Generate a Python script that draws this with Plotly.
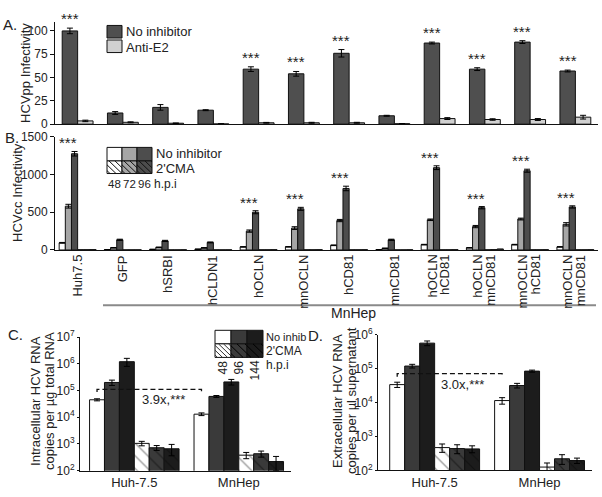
import math
import plotly.graph_objects as go

# ---------------- data ----------------
categories = ["Huh7.5", "GFP", "hSRBI", "hCLDN1", "hOCLN", "mnOCLN", "hCD81", "mnCD81",
              "hOCLN<br>hCD81", "hOCLN<br>mnCD81", "mnOCLN<br>hCD81", "mnOCLN<br>mnCD81"]

# Panel A: HCVpp infectivity
A_no_inhibitor = [100, 12, 18, 15, 59, 54, 76, 9, 87, 59, 88, 57]
A_no_inhibitor_err = [3, 1.5, 3, 0.5, 2.5, 2.5, 4, 0.5, 1, 1.5, 1.5, 1]
A_anti_e2 = [3.5, 2, 1, 0.3, 1.5, 1.5, 1.5, 0.5, 6, 5, 5, 7.5]
A_anti_e2_err = [0.8, 0.5, 0.3, 0.2, 0.4, 0.5, 0.5, 0.2, 1, 0.8, 1, 2]
A_significant = [1, 0, 0, 0, 1, 1, 1, 0, 1, 1, 1, 1]

# Panel B: HCVcc infectivity (48, 72, 96 h.p.i)
B_no_inh_48 = [95, 5, 8, 10, 41, 42, 62, 5, 71, 29, 71, 41]
B_no_inh_72 = [580, 30, 35, 28, 250, 290, 390, 22, 400, 310, 410, 340]
B_no_inh_96 = [1275, 135, 120, 100, 500, 545, 815, 135, 1090, 560, 1050, 570]
B_no_inh_48_err = [5, 1, 1, 1, 3, 3, 4, 1, 4, 3, 4, 3]
B_no_inh_72_err = [25, 3, 3, 3, 15, 18, 15, 3, 10, 15, 12, 22]
B_no_inh_96_err = [30, 8, 8, 6, 20, 20, 30, 8, 25, 15, 20, 15]
B_cma_48 = [4, 2, 2, 2, 3, 3, 3, 2, 3, 3, 3, 3]
B_cma_72 = [4, 2, 2, 2, 3, 3, 3, 2, 3, 5, 3, 3]
B_cma_96 = [5, 2, 3, 2, 4, 4, 4, 3, 4, 14, 4, 4]
B_significant = [1, 0, 0, 0, 1, 1, 1, 0, 1, 1, 1, 1]

cells = ["Huh-7.5", "MnHep"]
# Panel C: intracellular HCV RNA (48, 96, 144 h.p.i)
C_no_inh = [[4.5e4, 1.3e4], [2.0e5, 6.0e4], [1.2e6, 2.1e5]]
C_no_inh_err = [[4e3, 1.5e3], [4.5e4, 5e3], [4e5, 5e4]]
C_cma = [[1.05e3, 3.8e2], [7.2e2, 4.3e2], [6.6e2, 2.2e2]]
C_cma_err = [[2e2, 1e2], [1.5e2, 1.1e2], [3e2, 1.2e2]]
C_bracket = 1.1e5
# Panel D: extracellular HCV RNA
D_no_inh = [[3.4e4, 1.15e4], [1.2e5, 3.2e4], [5.7e5, 8.5e4]]
D_no_inh_err = [[6e3, 2.5e3], [1.5e4, 5e3], [9e4, 6e3]]
D_cma = [[4.7e2, 1.25e2], [4.4e2, 2.2e2], [4.3e2, 1.95e2]]
D_cma_err = [[1.3e2, 40], [1.3e2, 70], [1e2, 35]]
D_bracket = 7.2e4

# ---------------- helpers ----------------
W, H = 602, 497
FONT = "Liberation Sans, Arial, sans-serif"
TXT = "#222"


def px(x):
    return x / W


def py(y):
    return 1 - y / H


fig = go.Figure()
ERR = dict(type="data", color="black", thickness=1, width=3)

# ---------------- Panel A ----------------
idx = list(range(len(categories)))
wA = 0.341
fig.add_trace(go.Bar(x=idx, y=A_no_inhibitor, width=wA, offset=-wA, xaxis="x", yaxis="y",
                     marker=dict(color="#4f4f4f", line=dict(color="#111", width=1)),
                     error_y=dict(array=A_no_inhibitor_err, **ERR)))
fig.add_trace(go.Bar(x=idx, y=A_anti_e2, width=wA, offset=0, xaxis="x", yaxis="y",
                     marker=dict(color="#d0d0d0", line=dict(color="#111", width=1)),
                     error_y=dict(array=A_anti_e2_err, **ERR)))

# ---------------- Panel B ----------------
wB = 0.136
B_series = [
    (B_no_inh_48, B_no_inh_48_err, "white", None),
    (B_no_inh_72, B_no_inh_72_err, "#a6a6a6", None),
    (B_no_inh_96, B_no_inh_96_err, "#4d4d4d", None),
    (B_cma_48, None, "white", "\\"),
    (B_cma_72, None, "#a6a6a6", "\\"),
    (B_cma_96, None, "#4d4d4d", "\\"),
]
for k, (vals, errs, col, pat) in enumerate(B_series):
    mk = dict(color=col, line=dict(color="#111", width=1))
    if pat:
        mk["pattern"] = dict(shape=pat, fgcolor="#111", bgcolor=col, size=4, solidity=0.3)
    fig.add_trace(go.Bar(x=idx, y=vals, width=wB, offset=(k - 3) * wB, xaxis="x2", yaxis="y2",
                         marker=mk,
                         error_y=dict(array=errs, **ERR) if errs else None))

# ---------------- Panels C & D ----------------
wC = 0.1428
cidx = list(range(len(cells)))
no_cols = ["white", "#3a3a3a", "#1c1c1c"]


def add_log_panel(no_inh, no_err, cma, cma_err, xa, ya):
    for k in range(3):
        fig.add_trace(go.Bar(x=cidx, y=no_inh[k], width=wC, offset=(k - 3) * wC, xaxis=xa, yaxis=ya,
                             marker=dict(color=no_cols[k], line=dict(color="#111", width=1)),
                             error_y=dict(array=no_err[k], **ERR)))
    for k in range(3):
        fig.add_trace(go.Bar(x=cidx, y=cma[k], width=wC, offset=k * wC, xaxis=xa, yaxis=ya,
                             marker=dict(color=no_cols[k], line=dict(color="#111", width=1),
                                         pattern=dict(shape="\\", fgcolor="#333" if k == 0 else "#0a0a0a",
                                                      bgcolor=no_cols[k], size=9, solidity=0.15)),
                             error_y=dict(array=cma_err[k], **ERR)))


add_log_panel(C_no_inh, C_no_inh_err, C_cma, C_cma_err, "x3", "y3")
add_log_panel(D_no_inh, D_no_inh_err, D_cma, D_cma_err, "x4", "y4")

# dashed brackets (white 48h bar of Huh-7.5 to white 48h bar of MnHep)
bx0 = cidx[0] - 2.5 * wC
bx1 = cidx[1] - 2.5 * wC
for val, xa, ya in [(C_bracket, "x3", "y3"), (D_bracket, "x4", "y4")]:
    fig.add_trace(go.Scatter(x=[bx0, bx0, bx1, bx1], y=[val * 0.8, val, val, val * 0.82],
                             mode="lines", xaxis=xa, yaxis=ya,
                             line=dict(color="#111", width=1.3, dash="5px,3px")))

# ---------------- annotations ----------------
ann = []


def text(x, y, s, size=13, xanchor="center", yanchor="middle", angle=0, **kw):
    ann.append(dict(x=px(x), y=py(y), xref="paper", yref="paper", text=s, showarrow=False,
                    xanchor=xanchor, yanchor=yanchor, textangle=angle,
                    font=dict(family=FONT, size=size, color=TXT), **kw))


# stars A
for i, s in enumerate(A_significant):
    if s:
        ann.append(dict(x=i - wA / 2, y=A_no_inhibitor[i] + A_no_inhibitor_err[i], xref="x", yref="y",
                        text="***", showarrow=False, yanchor="bottom", yshift=-1,
                        font=dict(family=FONT, size=15, color=TXT)))
# stars B
for i, s in enumerate(B_significant):
    if s:
        ann.append(dict(x=i - 1.5 * wB, y=B_no_inh_96[i] + B_no_inh_96_err[i], xref="x2", yref="y2",
                        text="***", showarrow=False, yanchor="bottom", yshift=-2,
                        font=dict(family=FONT, size=15, color=TXT)))

# B category labels (rotated, top aligned under the axis, one annotation per line)
for i, lab in enumerate(categories):
    lines = lab.split("<br>")
    n = len(lines)
    for j, line in enumerate(lines):
        ann.append(dict(x=i, y=py(252), xref="x2", yref="paper", text=line, showarrow=False,
                        textangle=-90, xanchor="center", yanchor="top",
                        xshift=(j - (n - 1) / 2) * 13 - (1 if n > 1 else 0),
                        font=dict(family=FONT, size=13, color=TXT)))

# fold-change labels
ann.append(dict(x=0.28, y=math.log10(C_bracket), xref="x3", yref="y3", text="3.9x,***",
                showarrow=False, yanchor="top", xanchor="center", yshift=-1,
                font=dict(family=FONT, size=13, color=TXT)))
ann.append(dict(x=0.27, y=math.log10(D_bracket), xref="x4", yref="y4", text="3.0x,***",
                showarrow=False, yanchor="top", xanchor="center", yshift=-1,
                font=dict(family=FONT, size=13, color=TXT)))

# panel letters
text(1, 16, "A.", 15, xanchor="left")
text(3, 133, "B.", 15, xanchor="left")
text(6, 336, "C.", 15, xanchor="left")
text(306, 337, "D.", 15, xanchor="left")

# axis titles
text(26, 66, "HCVpp Infectivity", 13, angle=-90)
text(18, 190, "HCVcc Infectivity", 13, angle=-90)
text(36, 405, "Intracellular HCV RNA", 13, angle=-90)
text(50, 405, "copies per µg total RNA", 13, angle=-90)
text(338, 405, "Extracellular HCV RNA", 13, angle=-90)
text(352, 405, "copies per µl supernatant", 13, angle=-90)

# MnHep group label
text(353, 314, "MnHep", 14)

# ---------------- legends (drawn) ----------------
shapes = []


def rect(x0, y0, x1, y1, fill):
    shapes.append(dict(type="rect", xref="paper", yref="paper", x0=px(x0), x1=px(x1),
                       y0=py(y0), y1=py(y1), fillcolor=fill, line=dict(color="#111", width=1)))


def hatch(x0, y0, x1, y1, step, color="#111"):
    s = x1 - x0
    h = y1 - y0
    a = -h + step / 2
    while a < s:
        xs, ys = x0 + a, y0
        xe, ye = x0 + a + h, y1
        if xs < x0:
            ys = y0 + (x0 - xs)
            xs = x0
        if xe > x1:
            ye = y1 - (xe - x1)
            xe = x1
        shapes.append(dict(type="line", xref="paper", yref="paper", x0=px(xs), y0=py(ys),
                           x1=px(xe), y1=py(ye), line=dict(color=color, width=1)))
        a += step


# legend A
rect(107, 17, 122, 30, "#4f4f4f")
rect(107, 32, 122, 45, "#d0d0d0")
text(124, 23.5, "No inhibitor", 13, xanchor="left")
text(124, 39.5, "Anti-E2", 13, xanchor="left")

# legend B
bcols = ["white", "#a6a6a6", "#4d4d4d"]
bx = [107, 122, 137, 152]
for k in range(3):
    rect(bx[k], 143, bx[k + 1], 157, bcols[k])
    rect(bx[k], 157, bx[k + 1], 170, bcols[k])
    hatch(bx[k], 157, bx[k + 1], 170, 6)
text(154, 149, "No inhibitor", 13, xanchor="left")
text(154, 165, "2'CMA", 13, xanchor="left")
for k, lab in enumerate(["48", "72", "96"]):
    text((bx[k] + bx[k + 1]) / 2, 181, lab, 11.5)
text(152, 181, "h.p.i", 12, xanchor="left")

# legend C
cx = [215, 231, 247, 263]
for k in range(3):
    rect(cx[k], 332, cx[k + 1], 346, no_cols[k])
    rect(cx[k], 346, cx[k + 1], 360, no_cols[k])
    hatch(cx[k], 346, cx[k + 1], 360, 5 if k == 0 else 8, "#333" if k == 0 else "#000")
text(264, 339, "No inhib", 11, xanchor="left")
text(264, 353, "2'CMA", 12, xanchor="left")
for k, lab in enumerate(["48", "96", "144"]):
    text((cx[k] + cx[k + 1]) / 2, 361, lab, 12, yanchor="top", angle=-90)
text(264, 368, "h.p.i", 12, xanchor="left")

# MnHep underline
shapes.append(dict(type="line", xref="paper", yref="paper", x0=px(103), x1=px(596),
                   y0=py(306), y1=py(306), line=dict(color="#8a8a8a", width=2)))

# ---------------- axes ----------------
axbase = dict(showline=True, linecolor="#111", linewidth=1, showgrid=False, zeroline=False,
              tickfont=dict(family=FONT, size=12, color=TXT), ticks="outside", ticklen=4,
              tickcolor="#111")
xcat = dict(axbase, ticks="", range=[-0.5, len(categories) - 0.5], domain=[px(55), px(598)],
            tickvals=idx, showticklabels=False)
logy = dict(axbase, type="log", ticklen=2, tickfont=dict(family=FONT, size=12, color=TXT))

fig.update_layout(
    width=W, height=H, margin=dict(l=0, r=0, t=0, b=0),
    paper_bgcolor="white", plot_bgcolor="white", showlegend=False,
    barmode="overlay",
    font=dict(family=FONT, color=TXT),
    xaxis=dict(xcat, anchor="y"),
    yaxis=dict(axbase, anchor="x", domain=[py(119), py(13)], range=[0, 110],
               tickvals=[0, 25, 50, 75, 100]),
    xaxis2=dict(xcat, anchor="y2"),
    yaxis2=dict(axbase, anchor="x2", domain=[py(249), py(132)], range=[0, 1500],
                tickvals=[0, 500, 1000, 1500]),
    xaxis3=dict(axbase, anchor="y3", ticks="", domain=[px(80), px(291)], range=[-0.52, 1.5],
                tickvals=cidx, ticktext=cells, tickfont=dict(family=FONT, size=13, color=TXT)),
    yaxis3=dict(logy, anchor="x3", domain=[py(477), py(339)], range=[2, 7],
                tickvals=[1e2, 1e3, 1e4, 1e5, 1e6, 1e7],
                ticktext=["10<sup>%d</sup>" % e for e in range(2, 8)]),
    xaxis4=dict(axbase, anchor="y4", ticks="", domain=[px(378), px(592)], range=[-0.54, 1.5],
                tickvals=cidx, ticktext=cells, tickfont=dict(family=FONT, size=13, color=TXT)),
    yaxis4=dict(logy, anchor="x4", domain=[py(476.7), py(336.7)], range=[2, 6],
                tickvals=[1e2, 1e3, 1e4, 1e5, 1e6],
                ticktext=["10<sup>%d</sup>" % e for e in range(2, 7)]),
    annotations=ann,
    shapes=shapes,
)

fig.write_html("out.html", config={"displayModeBar": False},
               post_script="document.body.style.margin='0';document.body.style.padding='0';"
                           "document.body.style.overflow='hidden';")
